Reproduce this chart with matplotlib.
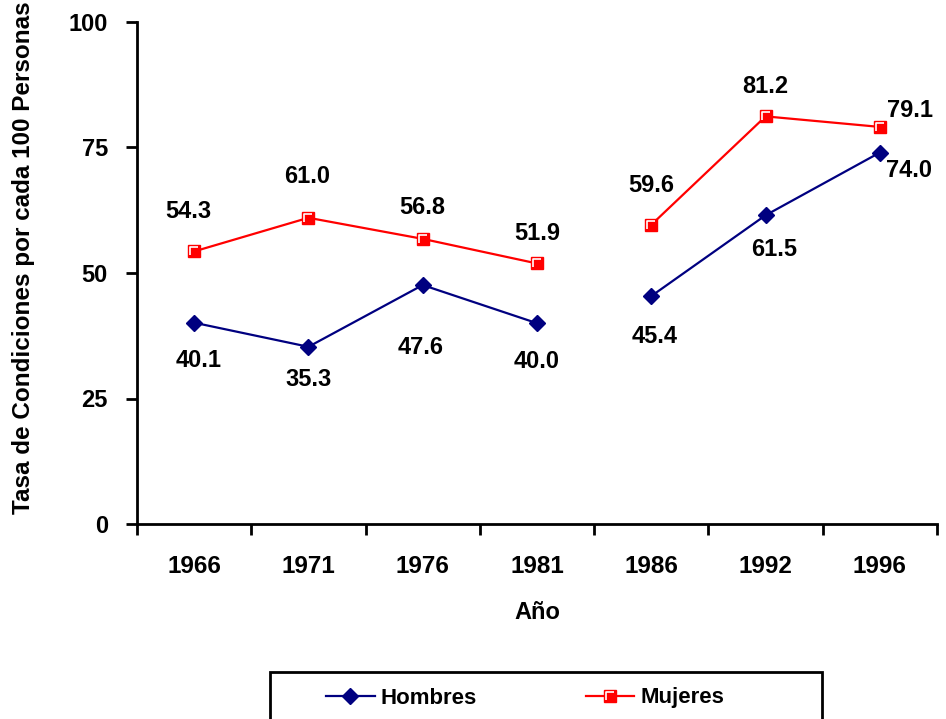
import matplotlib
matplotlib.use("Agg")
import matplotlib.pyplot as plt
from matplotlib.lines import Line2D
from matplotlib.patches import Rectangle
from matplotlib.path import Path
import numpy as np

plt.rcParams['font.family'] = ['Liberation Sans', 'DejaVu Sans']
plt.rcParams['font.weight'] = 'bold'

years = ["1966", "1971", "1976", "1981", "1986", "1992", "1996"]
hombres = [40.1, 35.3, 47.6, 40.0, 45.4, 61.5, 74.0]
mujeres = [54.3, 61.0, 56.8, 51.9, 59.6, 81.2, 79.1]
y_ticks = [0, 25, 50, 75, 100]

# label offsets in pixels (layout only)
off_h = [(4, -38), (0, -33), (-2, -62), (0, -38), (3, -40), (9, -34), (29, -18)]
off_m = [(-6, 40), (-1, 41), (0, 31), (0, 30), (0, 39), (0, 30), (30, 16)]

navy = '#000080'
red = '#ff0000'
fs = 17

# white bevel highlight inside the red squares (top + left edges)
bevel = Path([(-0.5, -0.5), (-0.5, 0.5), (0.5, 0.5)],
             [Path.MOVETO, Path.LINETO, Path.LINETO])

fig = plt.figure(figsize=(9.46, 7.19), dpi=100)
ax = fig.add_axes([137/946, 1-524/719, 800/946, 502/719])

x = np.arange(len(years))
# the series is broken between 1981 and 1986
for seg in (slice(0, 4), slice(4, 7)):
    ax.plot(x[seg], hombres[seg], color=navy, lw=1.6, marker='D', ms=8,
            mfc=navy, mec=navy)
    ax.plot(x[seg], mujeres[seg], color=red, lw=1.6, marker='s', ms=9,
            mfc=red, mec=red)
    ax.plot(x[seg], mujeres[seg], ls='none', marker=bevel, ms=6,
            mfc='none', mec='white', mew=1.2)

for i in range(len(years)):
    ax.annotate(f"{hombres[i]:.1f}", (x[i], hombres[i]), xytext=off_h[i],
                textcoords='offset pixels', ha='center', va='center',
                fontsize=fs, fontweight='bold')
    ax.annotate(f"{mujeres[i]:.1f}", (x[i], mujeres[i]), xytext=off_m[i],
                textcoords='offset pixels', ha='center', va='center',
                fontsize=fs, fontweight='bold')

ax.set_xlim(-0.5, len(years) - 0.5)
ax.set_ylim(0, 100)
ax.set_yticks(y_ticks)
ax.set_yticklabels([str(v) for v in y_ticks], fontsize=fs, fontweight='bold')
ax.set_xticks(np.arange(len(years) + 1) - 0.5)
ax.set_xticklabels([])
ax.set_xticks(x, minor=True)
ax.set_xticklabels(years, minor=True, fontsize=17.5, fontweight='bold')
ax.tick_params(axis='x', which='minor', length=0, pad=22)
ax.tick_params(axis='x', which='major', length=8, width=2, direction='out')
ax.tick_params(axis='y', length=8, width=2, direction='out', pad=13)

for s in ['top', 'right']:
    ax.spines[s].set_visible(False)
for s in ['left', 'bottom']:
    ax.spines[s].set_linewidth(2)

ax.set_xlabel("Año", fontsize=fs, fontweight='bold', labelpad=17)
ax.set_ylabel("Tasa de Condiciones por cada 100 Personas", fontsize=17.5,
              fontweight='bold', labelpad=24)
ax.yaxis.label.set_y(0.53)

# legend: frame drawn separately (it runs off the bottom of the figure)
fig.patches.append(Rectangle((270/946, -0.02), 552/946, 0.02 + 47/719,
                             transform=fig.transFigure, fill=False,
                             edgecolor='black', lw=2))
h1 = Line2D([], [], color=navy, lw=1.6, marker='D', ms=8, mfc=navy, mec=navy)
h2 = Line2D([], [], color=red, lw=1.6, marker='s', ms=9, mfc=red, mec=red)
h2b = Line2D([], [], ls='none', marker=bevel, ms=6, mfc='none',
             mec='white', mew=1.2)
leg = fig.legend([h1, (h2, h2b)], ["Hombres", "Mujeres"], loc='center left',
                 bbox_to_anchor=(326/946, 1-698/719), ncol=2,
                 frameon=False, columnspacing=4.9, handlelength=2.2,
                 handletextpad=0.25, borderpad=0, borderaxespad=0,
                 prop={'weight': 'bold', 'size': 16})

fig.savefig("out.png", dpi=100)
